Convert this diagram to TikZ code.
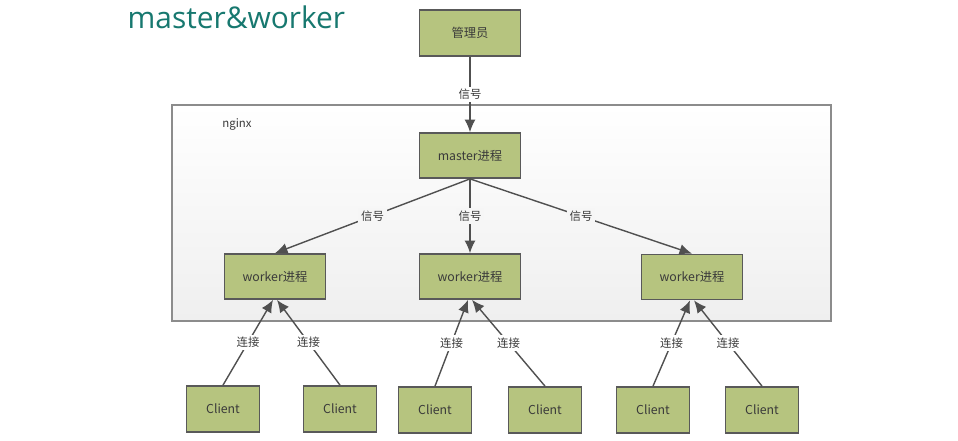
\documentclass[tikz,border=0pt]{standalone}
\usepackage{fontspec}
\setmainfont{Noto Sans CJK SC}
\newfontfamily\titlefont{Open Sans}
\usepackage{tikz}
\usetikzlibrary{arrows.meta,positioning,calc}
\definecolor{mwTeal}{HTML}{17786F}
\definecolor{mwOlive}{HTML}{B6C47F}
\definecolor{mwEdge}{HTML}{595959}
\definecolor{mwLine}{HTML}{505050}
\definecolor{mwFrame}{HTML}{8C8C8C}
\definecolor{mwBack}{HTML}{F6F6F6}
\definecolor{mwInk}{HTML}{3A3A3A}
\tikzset{
  procbox/.style={draw=mwEdge, line width=1pt, fill=mwOlive, align=center,
                  minimum width=2.02cm, minimum height=0.9cm, inner sep=2pt,
                  font=\fontsize{7}{8}\selectfont, text=mwInk},
  clientbox/.style={procbox, minimum width=1.46cm, minimum height=0.92cm},
  sarr/.style={-{Latex[length=2.5mm,width=2.2mm]}, line width=0.8pt, draw=mwLine},
  siglabel/.style={font=\fontsize{6.5}{7}\selectfont, text=mwInk, fill=mwBack, inner sep=1.5pt},
}

\begin{document}
\begin{tikzpicture}
    \useasboundingbox (0,0) rectangle (19.16,-8.8);
    % title
    \node[font=\titlefont\fontsize{17}{20}\selectfont, text=mwTeal, anchor=base west] (title) at (2.43,-0.57) {master\&worker};
    % nginx frame
    \node[draw=mwFrame, line width=1.1pt, top color=white, bottom color=mwBack!85!gray!60,
          minimum width=13.18cm, minimum height=4.32cm] (nginx) at (10.03,-4.26) {};
    \node[font=\fontsize{6.5}{7}\selectfont, text=mwInk] (nginxlbl) at (4.74,-2.48) {nginx};
    % processes
    \node[procbox, minimum height=0.92cm] (admin) at (9.4,-0.66) {管理员};
    \node[procbox] (master) at (9.4,-3.11) {master进程};
    \node[procbox] (wA) at (5.5,-5.53) {worker进程};
    \node[procbox] (wB) at (9.4,-5.53) {worker进程};
    \node[procbox] (wC) at (13.84,-5.54) {worker进程};
    % clients
    \node[clientbox] (c1) at (4.46,-8.18) {Client};
    \node[clientbox] (c2) at (6.8,-8.18) {Client};
    \node[clientbox] (c3) at (8.7,-8.2) {Client};
    \node[clientbox] (c4) at (10.9,-8.2) {Client};
    \node[clientbox] (c5) at (13.06,-8.2) {Client};
    \node[clientbox] (c6) at (15.24,-8.2) {Client};
    % signals
    \draw[sarr] (admin) -- node[siglabel, fill=white]{信号} (master);
    \draw[sarr] (master.south) -- node[siglabel]{信号} (wA.north);
    \draw[sarr] (master.south) -- node[siglabel]{信号} (wB.north);
    \draw[sarr] (master.south) -- node[siglabel]{信号} (wC.north);
    % connections
    \draw[sarr] (c1.north) -- node[siglabel, fill=white]{连接} ($(wA.south)+(-0.04,0)$);
    \draw[sarr] (c2.north) -- node[siglabel, fill=white]{连接} ($(wA.south)+(0.04,0)$);
    \draw[sarr] (c3.north) -- node[siglabel, fill=white]{连接} ($(wB.south)+(-0.04,0)$);
    \draw[sarr] (c4.north) -- node[siglabel, fill=white]{连接} ($(wB.south)+(0.04,0)$);
    \draw[sarr] (c5.north) -- node[siglabel, fill=white]{连接} ($(wC.south)+(-0.04,0)$);
    \draw[sarr] (c6.north) -- node[siglabel, fill=white]{连接} ($(wC.south)+(0.04,0)$);
\end{tikzpicture}
\end{document}
